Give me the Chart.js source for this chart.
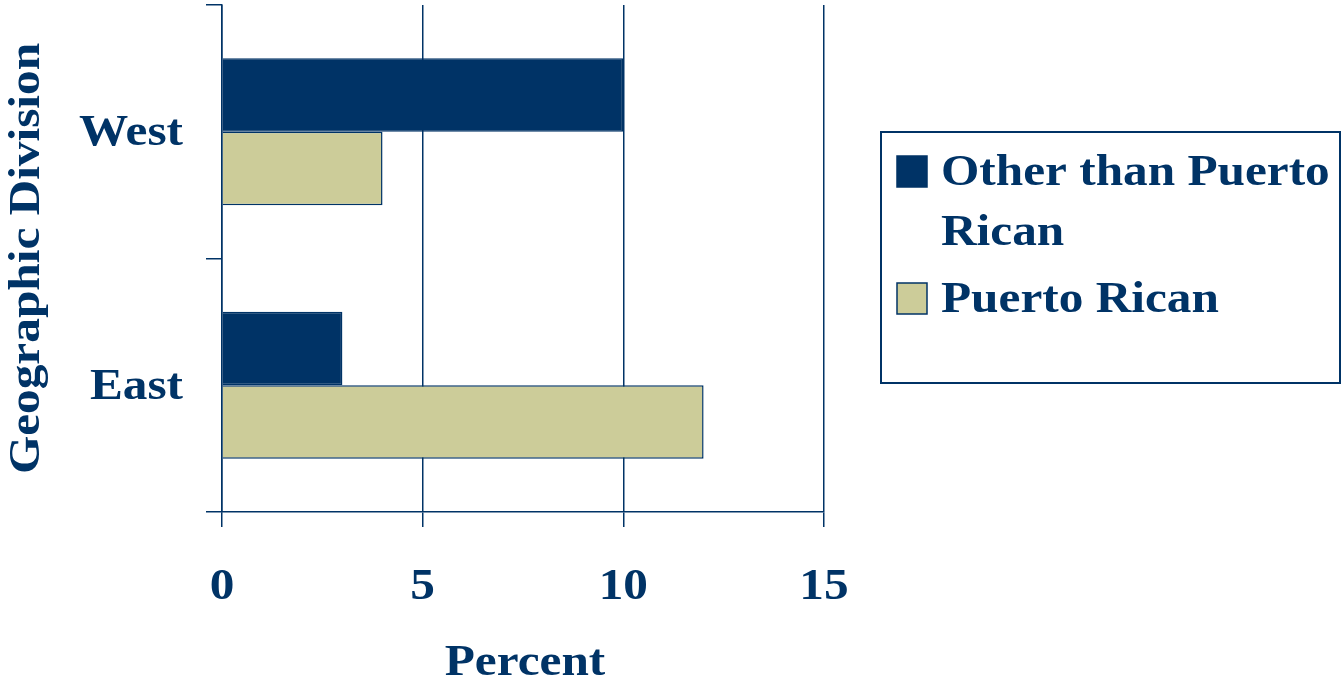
<!DOCTYPE html>
<html>
<head>
<meta charset="utf-8">
<script src="https://cdn.jsdelivr.net/npm/chart.js@4/dist/chart.umd.min.js"></script>
<style>
  html, body { margin: 0; padding: 0; background: #fff; }
  #wrap { width: 1341px; height: 690px; position: relative; }
</style>
</head>
<body>
<div id="wrap"><canvas id="chart"></canvas></div>
<script>
const categories = ['West', 'East'];
const seriesNames = ['Other than Puerto Rican', 'Puerto Rican'];
const otherThanPR = [10, 3];
const puertoRican = [4, 12];
const xTicks = [0, 5, 10, 15];

const navy = '#003366';
const tan = '#CCCC99';
const font = 'bold 44px "Liberation Serif", "Times New Roman", serif';
const stretch = 1.12; // the original type is a bit wider than Times at this height

function wideText(c, text, x, y, align, rot) {
  c.save();
  c.translate(x, y);
  if (rot) c.rotate(rot);
  c.scale(stretch, 1);
  c.textAlign = align;
  c.fillText(text, 0, 0);
  c.restore();
}

// axis labels and titles, placed from the chart's own scales
const axisText = {
  id: 'axisText',
  afterDraw(chart) {
    const c = chart.ctx;
    const xs = chart.scales.x, ys = chart.scales.y;
    c.save();
    c.font = font;
    c.fillStyle = navy;
    c.textBaseline = 'middle';
    ys.ticks.forEach((t, i) => {
      wideText(c, categories[t.value], 183, ys.getPixelForTick(i) + 2, 'right');
    });
    xs.ticks.forEach(t => {
      wideText(c, String(t.value), xs.getPixelForValue(t.value), 588, 'center');
    });
    const xTitle = chart.options.scales.x.title.text;
    const yTitle = chart.options.scales.y.title.text;
    wideText(c, xTitle, (xs.left + xs.right) / 2 + 2, 664, 'center');
    wideText(c, yTitle, 28, (ys.top + ys.bottom) / 2, 'center', -Math.PI / 2);
    c.restore();
  }
};

// legend box drawn on the canvas, text wrapped like the original
const boxLegend = {
  id: 'boxLegend',
  afterDraw(chart) {
    const c = chart.ctx;
    c.save();
    c.strokeStyle = navy;
    c.lineWidth = 2;
    c.strokeRect(881, 132, 459, 251);
    const rows = [
      { ds: 0, lines: ['Other than Puerto', 'Rican'], y: 171 },
      { ds: 1, lines: ['Puerto Rican'], y: 298 }
    ];
    c.font = font;
    c.textBaseline = 'middle';
    rows.forEach(r => {
      const ds = chart.data.datasets[r.ds];
      c.fillStyle = ds.backgroundColor;
      c.fillRect(897, r.y - 15, 30, 31);
      c.strokeStyle = navy;
      c.lineWidth = 1.5;
      c.strokeRect(897, r.y - 15, 30, 31);
      c.fillStyle = navy;
      r.lines.forEach((t, i) => wideText(c, t, 941, r.y + 3 + i * 60, 'left'));
    });
    c.restore();
  }
};

new Chart(document.getElementById('chart'), {
  type: 'bar',
  data: {
    labels: categories,
    datasets: [
      { label: seriesNames[0], data: otherThanPR, backgroundColor: navy, borderColor: navy, borderWidth: 1.5 },
      { label: seriesNames[1], data: puertoRican, backgroundColor: tan, borderColor: navy, borderWidth: 1.5 }
    ]
  },
  options: {
    indexAxis: 'y',
    responsive: true,
    maintainAspectRatio: false,
    animation: false,
    layout: { padding: { top: 5, right: 517, left: 0, bottom: 0 } },
    datasets: { bar: { categoryPercentage: 0.58, barPercentage: 1.0 } },
    plugins: { legend: { display: false }, tooltip: { enabled: false } },
    scales: {
      x: {
        min: 0, max: 15,
        afterBuildTicks: s => { s.ticks = xTicks.map(v => ({ value: v })); },
        afterFit: s => { s.height = 690 - 512; s.paddingLeft = 0; s.paddingRight = 0; },
        grid: { color: navy, lineWidth: 1.5, tickLength: 15 },
        border: { color: navy, width: 1.5 },
        ticks: { display: false },
        title: { display: false, text: 'Percent' }
      },
      y: {
        afterFit: s => { s.width = 222; s.paddingTop = 0; s.paddingBottom = 0; },
        grid: { color: navy, lineWidth: 1.5, drawOnChartArea: false, tickLength: 16, offset: true },
        border: { color: navy, width: 1.5 },
        ticks: { display: false },
        title: { display: false, text: 'Geographic Division' }
      }
    }
  },
  plugins: [axisText, boxLegend]
});
</script>
</body>
</html>
